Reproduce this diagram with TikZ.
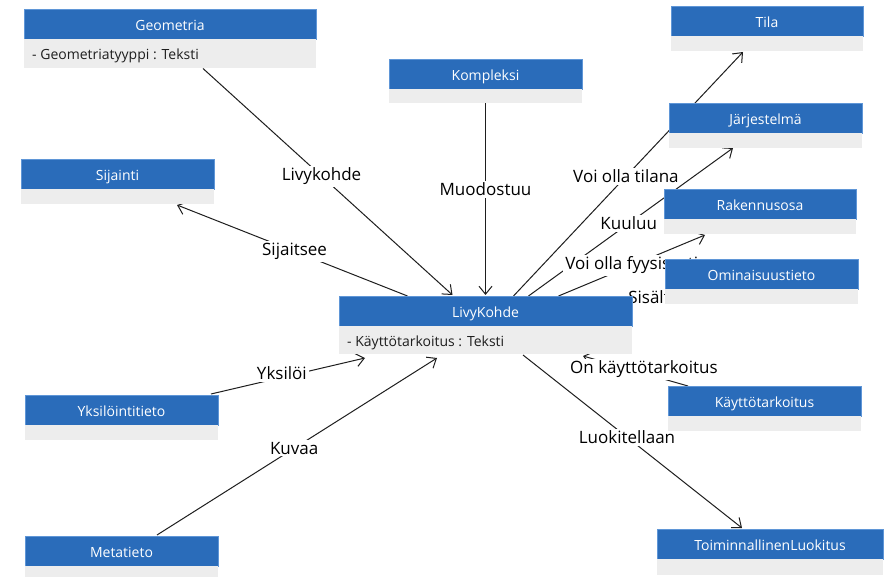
\documentclass[tikz,border=0pt]{standalone}
\usepackage{fontspec}
\setmainfont{Open Sans}
\usetikzlibrary{arrows.meta,calc}
\definecolor{hdrblue}{RGB}{42,108,186}
\definecolor{hdredge}{RGB}{95,150,215}
\definecolor{bodygray}{RGB}{237,237,237}
\definecolor{ink}{RGB}{30,30,30}
\pgfdeclarelayer{back}
\pgfdeclarelayer{bg}
\pgfsetlayers{back,bg,main}
\newcommand\umlcls[6]{%
  \node[hdr, minimum width={(#3-#2)*1pt}] (#1) at ({(#2+#3)/2},{#4+15}) {#6};
  \node[bodybox, minimum width={(#3-#2)*1pt}, minimum height={#5*1pt}, anchor=north] (#1-b) at (#1.south) {};
}
\begin{document}
\begin{tikzpicture}[x=1pt,y=-1pt,
  hdr/.style={rectangle, fill=hdrblue, draw=hdredge, line width=0.4pt, text=white, font=\fontsize{14}{16}\selectfont, minimum height=30pt, inner sep=0pt, outer sep=0pt, text height=13pt, text depth=0pt},
  bodybox/.style={rectangle, fill=bodygray, draw=none, inner sep=0pt, outer sep=0pt},
  attr/.style={anchor=west, text=ink, font=\fontsize{14}{16}\selectfont, inner sep=0pt, text height=12pt, text depth=0pt},
  conn/.style={draw=ink, line width=1pt},
  arr/.style={conn, -{Straight Barb[length=8pt,width=13pt]}},
  lbl/.style={fill=white, text=black, font=\fontsize{17}{19}\selectfont, inner sep=2pt}]
\begin{pgfonlayer}{back}
\useasboundingbox[fill=white] (0,0) rectangle (889,577);
\end{pgfonlayer}

\umlcls{geo}{24}{316}{9.5}{29}{Geometria}
\umlcls{komp}{389}{582}{59}{14}{Kompleksi}
\umlcls{tila}{671}{863}{6}{15}{Tila}
\umlcls{jarj}{669}{862}{103}{15}{Järjestelmä}
\umlcls{rak}{664}{856}{189}{15}{Rakennusosa}
\umlcls{omi}{665}{858}{259}{15}{Ominaisuustieto}
\umlcls{livy}{339}{632}{296}{28}{LivyKohde}
\umlcls{sij}{21}{214}{159}{15}{Sijainti}
\umlcls{yks}{25}{218}{395}{15}{Yksilöintitieto}
\umlcls{meta}{25}{218}{536}{11}{Metatieto}
\umlcls{kay}{668}{861}{386}{15}{Käyttötarkoitus}
\umlcls{toim}{657}{883}{529}{16}{ToiminnallinenLuokitus}
\node[attr] (geo-t) at ([xshift=8pt]geo-b.west) {- Geometriatyyppi : Teksti};
\node[attr] (livy-t) at ([xshift=8pt]livy-b.west) {- Käyttötarkoitus : Teksti};

\begin{pgfonlayer}{bg}
\draw[arr] ([xshift=33pt]geo-b.south) -- node[lbl,pos=0.475] (l1) {Livykohde} ([xshift=-33pt,yshift=1pt]livy.north);
\draw[arr] (komp-b.south) -- node[lbl,pos=0.45] (l2) {Muodostuu} ([yshift=1pt]livy.north);
\draw[arr] ([xshift=-78pt]livy.north) -- node[lbl,pos=0.49] (l3) {Sijaitsee} ([xshift=59.5pt,yshift=-1pt]sij-b.south);
\draw[arr] ([xshift=28pt]livy.north) -- node[lbl,pos=0.49] (l4) {Voi olla tilana} ([xshift=-24pt,yshift=-1pt]tila-b.south);
\draw[arr] ([xshift=43pt]livy.north) -- node[lbl,pos=0.49] (l5) {Kuuluu} ([xshift=-32.5pt]jarj-b.south);
\draw[arr] ([xshift=73pt]livy.north) -- node[lbl,pos=0.5] (l6) {Voi olla fyysisesti} ([xshift=-55pt,yshift=-1pt]rak-b.south);
\draw[conn] ([yshift=-1pt]livy.north east) -- node[lbl,pos=0.5,xshift=10pt] (l7) {Sisältää} (omi-b.west);
\draw[arr] ([xshift=-76.5pt]kay.north) -- node[lbl,pos=0.42,yshift=4pt] (l8) {On käyttötarkoitus} ([xshift=97.5pt,yshift=-2pt]livy-b.south);
\draw[arr] ([xshift=37.5pt,yshift=-1pt]livy-b.south) -- node[lbl,pos=0.475] (l9) {Luokitellaan} ([xshift=-28pt,yshift=1pt]toim.north);
\draw[arr] ([xshift=89.5pt,yshift=1pt]yks.north) -- node[lbl,pos=0.46,yshift=4pt] (l10) {Yksilöi} ([xshift=-120.5pt,yshift=-4pt]livy-b.south);
\draw[arr] ([xshift=35.5pt,yshift=1pt]meta.north) -- node[lbl,pos=0.49] (l11) {Kuvaa} ([xshift=-48.5pt,yshift=-4pt]livy-b.south);
\end{pgfonlayer}
\end{tikzpicture}
\end{document}
